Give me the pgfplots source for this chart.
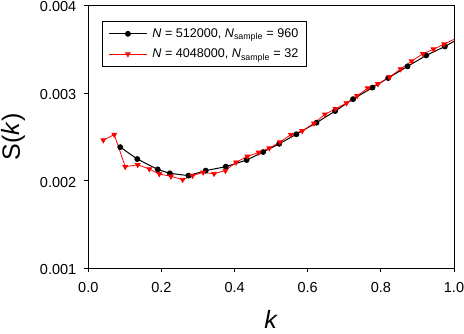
\documentclass[border=0pt]{standalone}
\usepackage{fontspec}
\setmainfont{Liberation Sans}
\usepackage{pgfplots}
\pgfplotsset{compat=1.18}

\pgfplotstableread{
k        S
0.0874   0.002383
0.134    0.002247
0.190    0.002129
0.223    0.002084
0.274    0.002058
0.321    0.002115
0.376    0.002160
0.433    0.002236
0.478    0.002327
0.522    0.002421
0.569    0.002530
0.624    0.002662
0.675    0.002795
0.724    0.002931
0.777    0.003063
0.820    0.003172
0.873    0.003305
0.924    0.003430
0.975    0.003532
1.030    0.003660
}\smallN

\pgfplotstableread{
k        S
0.041    0.002463
0.071    0.002527
0.101    0.002159
0.135    0.002182
0.167    0.002133
0.194    0.002077
0.226    0.002050
0.258    0.002012
0.285    0.002058
0.314    0.002095
0.344    0.002080
0.375    0.002115
0.404    0.002210
0.435    0.002277
0.466    0.002322
0.495    0.002372
0.524    0.002440
0.554    0.002526
0.585    0.002568
0.617    0.002655
0.647    0.002757
0.676    0.002821
0.706    0.002886
0.735    0.002968
0.764    0.003056
0.792    0.003104
0.824    0.003184
0.854    0.003274
0.884    0.003365
0.915    0.003449
0.944    0.003501
0.973    0.003558
1.003    0.003620
}\largeN

\begin{document}
\begin{tikzpicture}
\begin{axis}[
    name=ax,
    scale only axis,
    width=365.7pt, height=262.8pt,
    xmin=0, xmax=1, ymin=0.001, ymax=0.004,
    xtick={0,0.2,...,1.0},
    ytick={0.001,0.002,0.003,0.004},
    scaled ticks=false,
    /pgf/number format/assume math mode=true,
    xticklabel style={/pgf/number format/fixed, /pgf/number format/fixed zerofill,
        /pgf/number format/precision=1, yshift=-7pt},
    yticklabel style={/pgf/number format/fixed, /pgf/number format/fixed zerofill,
        /pgf/number format/precision=3, xshift=-4.5pt, yshift=-1.5pt},
    tick label style={font=\fontsize{14.5}{17}\selectfont},
    tick align=outside,
    major tick length=4pt,
    xtick pos=bottom, ytick pos=left,
    minor tick num=0,
    axis line style={line width=0.9pt},
    tick style={line width=0.9pt, black},
    xlabel={\textit{k}},
    ylabel={S(\textit{k})},
    every axis x label/.style={at={([yshift=-60.5pt]rel axis cs:0.5,0)}, anchor=base,
        font=\fontsize{25}{30}\selectfont},
    every axis y label/.style={at={([xshift=-75pt]rel axis cs:0,0.5)}, anchor=center, rotate=90,
        font=\fontsize{25}{30}\selectfont},
    legend style={
        at={(rel axis cs:0.0375,0.94)}, anchor=north west,
        draw=black, line width=0.8pt,
        font=\fontsize{12.6}{15}\selectfont,
        inner xsep=6pt, inner ysep=5pt,
        row sep=6pt,
        column sep=3pt,
        cells={anchor=west},
    },
    legend image code/.code={
        \draw[mark repeat=2,mark phase=2] plot coordinates {(0pt,0pt) (19pt,0pt) (38pt,0pt)};
    },
]
\addplot[black, line width=1pt, mark=*, mark size=2.4pt, mark options={fill=black}]
    table[x=k, y=S] {\smallN};
\addlegendentry{\textit{N} = 512000, \textit{N}\textsubscript{sample} = 960}
\addplot[red, line width=0.8pt, mark=triangle*, mark size=2.7pt, mark options={fill=red, rotate=180}]
    table[x=k, y=S] {\largeN};
\addlegendentry{\textit{N} = 4048000, \textit{N}\textsubscript{sample} = 32}
\end{axis}
\pgfresetboundingbox
\path ([shift={(-88.3pt,-65.7pt)}]ax.south west) rectangle ([shift={(10pt,5.5pt)}]ax.north east);
\end{tikzpicture}
\end{document}
